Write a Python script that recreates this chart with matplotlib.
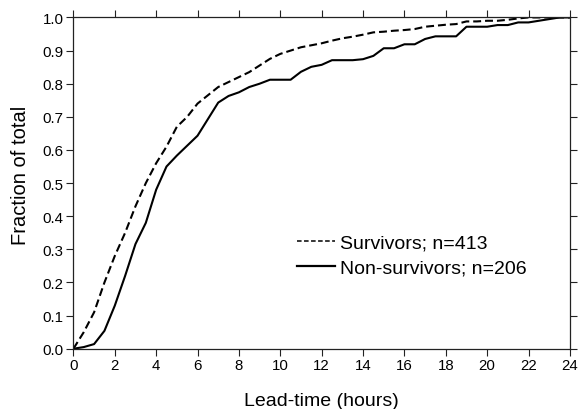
import matplotlib
matplotlib.use("Agg")
import matplotlib.pyplot as plt
from matplotlib.lines import Line2D

plt.rcParams['font.family'] = ['Liberation Sans', 'DejaVu Sans']

hours = [0, 0.5, 1, 1.5, 2, 2.5, 3, 3.5, 4, 4.5, 5, 5.5, 6, 6.5, 7, 7.5, 8, 8.5, 9, 9.5,
         10, 10.5, 11, 11.5, 12, 12.5, 13, 13.5, 14, 14.5, 15, 15.5, 16, 16.5, 17, 17.5,
         18, 18.5, 19, 19.5, 20, 20.5, 21, 21.5, 22, 22.5, 23, 23.5, 24]

survivors = [0.0, 0.05, 0.11, 0.20, 0.28, 0.35, 0.43, 0.50, 0.56, 0.61, 0.67, 0.70, 0.74,
             0.765, 0.79, 0.805, 0.82, 0.835, 0.855, 0.875, 0.89, 0.90, 0.91, 0.916, 0.922,
             0.93, 0.937, 0.942, 0.948, 0.955, 0.957, 0.96, 0.962, 0.965, 0.972, 0.975,
             0.978, 0.98, 0.988, 0.988, 0.99, 0.99, 0.993, 0.997, 1.0, 1.0, 1.0, 1.0, 1.0]

non_survivors = [0.0, 0.005, 0.014, 0.054, 0.13, 0.22, 0.316, 0.38, 0.48, 0.55, 0.583,
                 0.613, 0.643, 0.693, 0.743, 0.763, 0.774, 0.79, 0.80, 0.812, 0.812, 0.812,
                 0.836, 0.851, 0.857, 0.871, 0.871, 0.871, 0.874, 0.884, 0.907, 0.907,
                 0.919, 0.919, 0.935, 0.943, 0.943, 0.943, 0.972, 0.972, 0.972, 0.977,
                 0.977, 0.985, 0.985, 0.99, 0.995, 1.0, 1.0]

labels = ["Survivors; n=413", "Non-survivors; n=206"]
xticks = list(range(0, 25, 2))
yticks = [round(0.1 * i, 1) for i in range(11)]

fig = plt.figure(figsize=(5.78, 4.10), dpi=100)
ax = fig.add_axes([0.127, 0.147, 0.859, 0.808])

ax.plot(hours, survivors, color='black', lw=1.5, ls=(0, (3.8, 1.9)))
ax.plot(hours, non_survivors, color='black', lw=1.5, ls='-')

ax.set_xlim(0, 24)
ax.set_ylim(0, 1.0)
ax.set_xticks(xticks)
ax.set_yticks(yticks)
ax.set_yticklabels([f"{v:.1f}" for v in yticks])
ax.tick_params(direction='out', length=5, width=0.8, labelsize=10.8, color='#222222',
               top=True, right=True, labeltop=False, labelright=False, pad=2)
for s in ax.spines.values():
    s.set_linewidth(0.9)
    s.set_color('#222222')

ax.set_xlabel("Lead-time (hours)", fontsize=14, labelpad=14)
ax.set_ylabel("Fraction of total", fontsize=14.5)
ax.yaxis.set_label_coords(-0.088, 0.525)

handles = [Line2D([], [], color='black', lw=1.1, ls=(0, (3, 1.6))),
           Line2D([], [], color='black', lw=1.6, ls='-')]
leg = ax.legend(handles, labels, loc='upper left', bbox_to_anchor=(0.45, 0.347),
                frameon=False, fontsize=14, handlelength=1.95, handletextpad=0.25,
                labelspacing=0.38, borderaxespad=0, borderpad=0)

fig.savefig("out.png", dpi=100)
